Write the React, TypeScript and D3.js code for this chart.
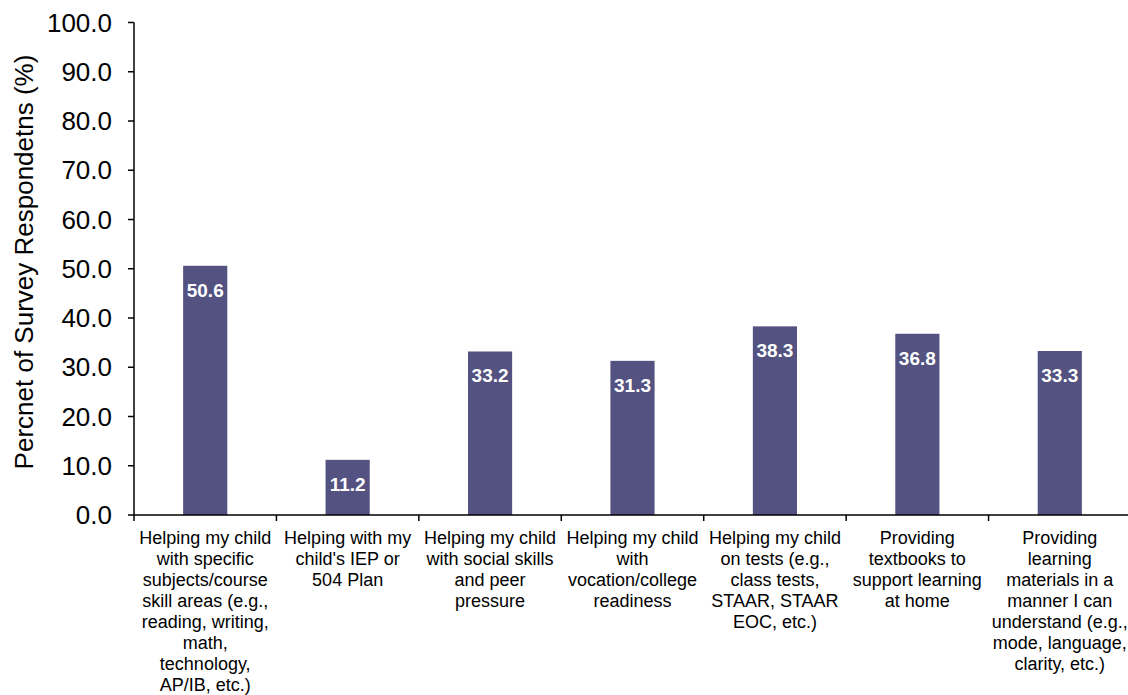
import React from "react";
import * as d3 from "d3";

const categories: string[][] = [
  ["Helping my child", "with specific", "subjects/course", "skill areas (e.g.,", "reading, writing,", "math,", "technology,", "AP/IB, etc.)"],
  ["Helping with my", "child's IEP or", "504 Plan"],
  ["Helping my child", "with social skills", "and peer", "pressure"],
  ["Helping my child", "with", "vocation/college", "readiness"],
  ["Helping my child", "on tests (e.g.,", "class tests,", "STAAR, STAAR", "EOC, etc.)"],
  ["Providing", "textbooks to", "support learning", "at home"],
  ["Providing", "learning", "materials in a", "manner I can", "understand (e.g.,", "mode, language,", "clarity, etc.)"],
];
const values: number[] = [50.6, 11.2, 33.2, 31.3, 38.3, 36.8, 33.3];
const yTicks: number[] = [0, 10, 20, 30, 40, 50, 60, 70, 80, 90, 100];
const yTitle = "Percnet of Survey Respondetns (%)";

export default function App() {
  const W = 1128, H = 695;
  const left = 134, right = 1131, top = 22.5, bottom = 515;
  const idx = categories.map((_, i) => String(i));
  const x = d3.scaleBand<string>().domain(idx).range([left, right]).paddingInner(0.69).paddingOuter(0.345);
  const xOuter = d3.scaleBand<string>().domain(idx).range([left, right]);
  const y = d3.scaleLinear().domain([0, 100]).range([bottom, top]);
  const font = "Arial, 'Liberation Sans', sans-serif";
  return (
    <svg width={W} height={H} style={{ position: "absolute", left: 0, top: 0, background: "#fff" }} fontFamily={font}>
      {values.map((v, i) => (
        <g key={i}>
          <rect x={x(String(i))!} y={y(v)} width={x.bandwidth()} height={bottom - y(v)} fill="#535280" />
          <text x={x(String(i))! + x.bandwidth() / 2} y={y(v) + 31} textAnchor="middle" fill="#fff" fontWeight="bold" fontSize={19}>
            {v.toFixed(1)}
          </text>
        </g>
      ))}
      <line x1={left} x2={left} y1={top} y2={bottom} stroke="#000" strokeWidth={1.5} />
      <line x1={left} x2={right} y1={bottom} y2={bottom} stroke="#000" strokeWidth={1.5} />
      {yTicks.map((t) => (
        <g key={t}>
          <line x1={left - 6} x2={left} y1={y(t)} y2={y(t)} stroke="#000" strokeWidth={1.5} />
          <text x={112} y={y(t) + 9} textAnchor="end" fontSize={26} fill="#000">
            {t.toFixed(1)}
          </text>
        </g>
      ))}
      {idx.map((k) => (
        <line key={k} x1={xOuter(k)!} x2={xOuter(k)!} y1={bottom} y2={bottom + 6} stroke="#000" strokeWidth={1.5} />
      ))}
      {categories.map((lines, i) => (
        <text key={i} textAnchor="middle" fontSize={18} fill="#000">
          {lines.map((l, j) => (
            <tspan key={j} x={xOuter(String(i))! + xOuter.bandwidth() / 2} y={543.5 + j * 21.1}>
              {l}
            </tspan>
          ))}
        </text>
      ))}
      <text transform={`translate(33, 262) rotate(-90)`} textAnchor="middle" fontSize={26} fill="#000">
        {yTitle}
      </text>
    </svg>
  );
}
